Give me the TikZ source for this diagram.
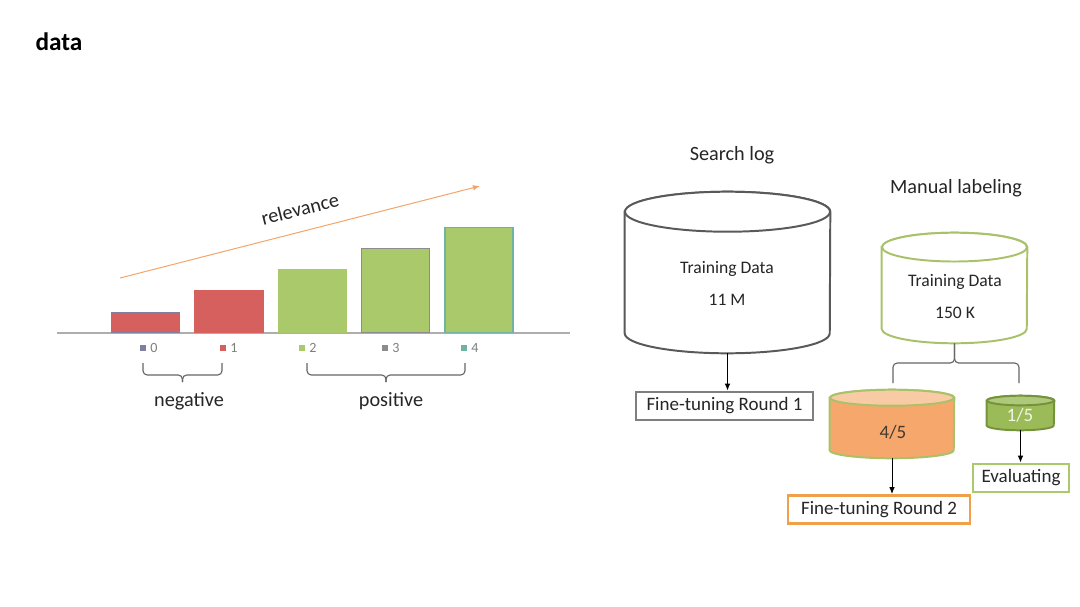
\documentclass[tikz,border=0pt]{standalone}
\usepackage{fontspec}
\setmainfont{Carlito}
\usetikzlibrary{arrows.meta}

\definecolor{barred}{HTML}{D6605D}
\definecolor{bargreen}{HTML}{A9C96A}
\definecolor{edgepurple}{HTML}{7F7F9F}
\definecolor{edgegray}{HTML}{8C8C8C}
\definecolor{edgeteal}{HTML}{6FB3A5}
\definecolor{relorange}{HTML}{F4A46A}
\definecolor{cylgray}{HTML}{595959}
\definecolor{cylolive}{HTML}{A9C26A}
\definecolor{cylorange}{HTML}{F5A76C}
\definecolor{cyltop}{HTML}{F9CBA5}
\definecolor{cylgreen}{HTML}{9BBB59}
\definecolor{cylgreentop}{HTML}{AFC97A}
\definecolor{cyldark}{HTML}{76923C}
\definecolor{boxgray}{HTML}{7F7F7F}
\definecolor{boxorange}{HTML}{F0A04B}
\definecolor{txt}{HTML}{262626}

% drum outline on the box of a named node: name, x radius, y radius, body style, top fill
\newcommand{\drum}[5]{%
  \path[#4] ([yshift=-#3]#1.north west) -- ([yshift=#3]#1.south west)
    arc[start angle=180,end angle=360,x radius=#2,y radius=#3]
    -- ([yshift=-#3]#1.north east)
    arc[start angle=0,end angle=180,x radius=#2,y radius=#3] -- cycle;
  \path[#4,fill=#5] ([yshift=-#3]#1.north) ellipse[x radius=#2,y radius=#3];
}

\tikzset{
  bar/.style={rectangle,anchor=south,inner sep=0pt,minimum width=1.7cm,line width=1pt},
  legsq/.style={rectangle,inner sep=0pt,minimum size=0.15cm},
  legtxt/.style={font=\fontsize{10}{11}\selectfont,text=boxgray,inner sep=0pt},
  brc/.style={draw=boxgray!80!black,line width=0.8pt,rounded corners=3pt},
  can/.style={rectangle,inner sep=0pt},
  stepbox/.style={rectangle,draw,line width=2pt,inner sep=0pt,font=\fontsize{13.5}{15}\selectfont,text=txt},
  arr/.style={-{Latex[length=5pt,width=4pt]},line width=0.7pt}
}

\begin{document}
\begin{tikzpicture}[x=0.025cm,y=-0.025cm]
  \useasboundingbox[fill=white] (0,0) rectangle (1080,606);

  \node[font=\bfseries\fontsize{18}{20}\selectfont] (title) at (59,42) {data};

  % bar chart
  \coordinate (ax0) at (57,333);
  \coordinate (ax1) at (570,333);
  \draw[edgegray!70,line width=1pt] (ax0) -- (ax1);

  \node[bar,fill=barred,draw=edgepurple,minimum height=0.5cm] (b0) at (145.5,333) {};
  \node[bar,fill=barred,draw=barred,minimum height=1.05cm] (b1) at (229,333) {};
  \node[bar,fill=bargreen,draw=bargreen,minimum height=1.575cm] (b2) at (312.5,333) {};
  \node[bar,fill=bargreen,draw=edgegray,minimum height=2.1cm] (b3) at (395.5,333) {};
  \node[bar,fill=bargreen,draw=edgeteal,minimum height=2.625cm] (b4) at (479,333) {};

  \node[legsq,fill=edgepurple] (s0) at (143,348) {};
  \node[legsq,fill=barred] (s1) at (223,348) {};
  \node[legsq,fill=bargreen] (s2) at (302,348) {};
  \node[legsq,fill=edgegray] (s3) at (385,348) {};
  \node[legsq,fill=edgeteal] (s4) at (464,348) {};
  \node[legtxt,anchor=west] (l0) at (150,348) {0};
  \node[legtxt,anchor=west] (l1) at (230,348) {1};
  \node[legtxt,anchor=west] (l2) at (309,348) {2};
  \node[legtxt,anchor=west] (l3) at (392,348) {3};
  \node[legtxt,anchor=west] (l4) at (471,348) {4};

  % braces under the legend
  \coordinate (nb0) at (143,363);
  \coordinate (nb1) at (222,363);
  \coordinate (ntip) at (182.5,382);
  \coordinate (pb0) at (307,363);
  \coordinate (pb1) at (465,363);
  \coordinate (ptip) at (386,382);
  \draw[brc] (nb0) -- ++(0,12) -| (ntip);
  \draw[brc] (nb1) -- ++(0,12) -| (ntip);
  \draw[brc] (pb0) -- ++(0,12) -| (ptip);
  \draw[brc] (pb1) -- ++(0,12) -| (ptip);

  \begin{scope}[every node/.style={font=\fontsize{14.4}{16}\selectfont,text=txt}]
    \node (neg) at (189,401) {negative};
    \node (pos) at (391,401) {positive};
    \node[rotate=14.3] (rel) at (300,209) {relevance};
    \node (slog) at (732,155) {Search log};
    \node (mlab) at (956,188) {Manual labeling};
  \end{scope}

  \coordinate (r0) at (120,278);
  \coordinate (r1) at (480,186);
  \draw[relorange,line width=0.7pt,-{Latex[length=5pt,width=4pt]}] (r0) -- (r1);

  % cylinders
  \node[can,minimum width=5.125cm,minimum height=4.025cm] (logdb) at (727.5,272.5) {};
  \node[can,minimum width=3.625cm,minimum height=2.75cm] (mandb) at (954.5,288) {};
  \node[can,minimum width=3.1cm,minimum height=1.7cm] (trdb) at (892,424) {};
  \node[can,minimum width=1.675cm,minimum height=0.85cm] (evdb) at (1020.5,413) {};
  \drum{logdb}{2.5625cm}{0.5cm}{draw=cylgray,line width=1.4pt,fill=white}{white}
  \drum{mandb}{1.8125cm}{0.36cm}{draw=cylolive,line width=1.4pt,fill=white}{white}
  \drum{trdb}{1.55cm}{0.2cm}{draw=cylolive,line width=1.4pt,fill=cylorange}{cyltop}
  \drum{evdb}{0.8375cm}{0.12cm}{draw=cyldark,line width=1.4pt,fill=cylgreen}{cylgreentop}

  \begin{scope}[every node/.style={font=\fontsize{12.5}{14}\selectfont,text=txt}]
    \node (logt1) at (727,269) {Training Data};
    \node (logt2) at (727,300) {11 M};
    \node (mant1) at (955,282) {Training Data};
    \node (mant2) at (955,313) {150 K};
    \node[font=\fontsize{13.5}{15}\selectfont,text=txt!85!cylorange] (trt) at (893,432) {4/5};
    \node[font=\fontsize{13.5}{15}\selectfont,text=white!85!cylgreen] (evt) at (1020,415) {1/5};
  \end{scope}

  % split brace under the labelled data
  \coordinate (mb0) at (893,383);
  \coordinate (mb1) at (1019,383);
  \draw[brc] (mb0) -- ++(0,-20) -| (mandb.south);
  \draw[brc] (mb1) -- ++(0,-20) -| (mandb.south);

  % boxes
  \node[stepbox,draw=boxgray,minimum width=4.425cm,minimum height=0.7cm] (ft1) at (724.5,406) {Fine-tuning Round 1};
  \node[stepbox,draw=boxorange,minimum width=4.55cm,minimum height=0.7cm] (ft2) at (879,509.5) {Fine-tuning Round 2};
  \node[stepbox,draw=bargreen,minimum width=2.4cm,minimum height=0.7cm] (eval) at (1021,478) {Evaluating};

  \draw[arr] (logdb.south) -- (logdb.south |- ft1.north);
  \draw[arr] (trdb.south) -- (trdb.south |- ft2.north);
  \draw[arr] (evdb.south) -- (evdb.south |- eval.north);

\end{tikzpicture}
\end{document}
